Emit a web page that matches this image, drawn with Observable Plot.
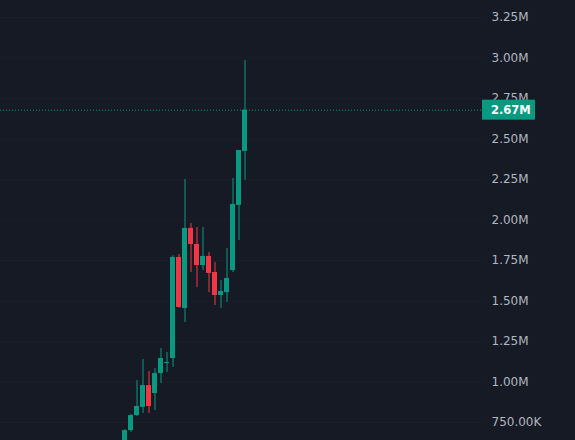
<!DOCTYPE html>
<html>
<head>
<meta charset="utf-8">
<script src="https://cdn.jsdelivr.net/npm/d3@7"></script>
<script src="https://cdn.jsdelivr.net/npm/@observablehq/plot@0.6"></script>
<style>
  html, body { margin: 0; padding: 0; background: #161a25; }
  #chart svg { display: block; }
</style>
</head>
<body>
<div id="chart"></div>
<script>
// Candle data (values in units of price)
const open  = [0.580, 0.700, 0.793, 0.843, 0.978, 0.929, 1.052, 1.114, 1.145, 1.769, 1.454, 1.948, 1.849, 1.719, 1.775, 1.676, 1.534, 1.552, 1.688, 2.090, 2.423].map(v => v * 1e6);
const high  = [0.705, 0.800, 1.009, 1.139, 1.065, 1.083, 1.207, 1.182, 1.780, 1.787, 2.250, 1.978, 1.954, 1.954, 1.799, 1.738, 1.627, 1.824, 2.256, 2.429, 2.985].map(v => v * 1e6);
const low   = [0.560, 0.690, 0.787, 0.806, 0.806, 0.824, 0.991, 1.059, 1.090, 1.455, 1.367, 1.676, 1.583, 1.688, 1.552, 1.472, 1.454, 1.491, 1.676, 1.873, 2.244].map(v => v * 1e6);
const close = [0.700, 0.793, 0.849, 0.978, 0.849, 1.052, 1.145, 1.120, 1.769, 1.460, 1.948, 1.849, 1.719, 1.775, 1.670, 1.534, 1.559, 1.639, 2.096, 2.429, 2.678].map(v => v * 1e6);
const tickValues = [750000, 1000000, 1250000, 1500000, 1750000, 2000000, 2250000, 2500000, 2750000, 3000000, 3250000];

const UP = "#089981", DOWN = "#f23645";
const candles = open.map((o, i) => ({i, o, h: high[i], l: low[i], c: close[i], up: close[i] >= o}));
const last = candles[candles.length - 1];

const fmt = v => v >= 1e6 ? (Math.floor(v / 1e4) / 100).toFixed(2) + "M" : (v / 1e3).toFixed(2) + "K";
const halfBody = 2.5 / 6;

const chart = Plot.plot({
  width: 575,
  height: 440,
  marginTop: 0,
  marginBottom: 0,
  marginLeft: 0,
  marginRight: 93,
  style: {background: "#161a25", color: "#b2b5be", fontFamily: "DejaVu Sans", fontSize: "12px"},
  x: {type: "linear", domain: [-20.75, 59.58333], axis: null},
  y: {type: "linear", domain: [638900, 3354900]},
  marks: [
    Plot.gridY(tickValues, {stroke: "#1b1f2b", strokeOpacity: 1}),
    Plot.axisY({anchor: "right", ticks: tickValues, tickFormat: fmt, tickSize: 0, tickPadding: 9, fill: "#b2b5be", fontSize: 12, label: null}),
    Plot.ruleX(candles, {x: "i", y1: "l", y2: "h", stroke: d => d.up ? UP : DOWN, strokeWidth: 1}),
    Plot.rect(candles, {
      x1: d => d.i - halfBody, x2: d => d.i + halfBody,
      y1: d => Math.min(d.o, d.c), y2: d => Math.max(d.o, d.c),
      fill: d => d.up ? UP : DOWN
    }),
    Plot.ruleY([last.c], {stroke: UP, strokeDasharray: "1,2", strokeWidth: 1})
  ]
});

// Last-price label box on the price axis, positioned with the chart's y scale
const yPix = chart.scale("y").apply(last.c);
const svg = d3.select(chart);
const g = svg.append("g");
g.append("rect")
  .attr("x", 482).attr("y", yPix - 10).attr("width", 53).attr("height", 20)
  .attr("fill", UP);
g.append("text")
  .attr("x", 491).attr("y", yPix).attr("dy", "0.35em")
  .attr("text-anchor", "start")
  .attr("fill", "#ffffff").attr("font-weight", "bold")
  .attr("font-size", "11.5px").attr("font-family", "DejaVu Sans")
  .text(fmt(last.c));

document.getElementById("chart").appendChild(chart);
</script>
</body>
</html>
